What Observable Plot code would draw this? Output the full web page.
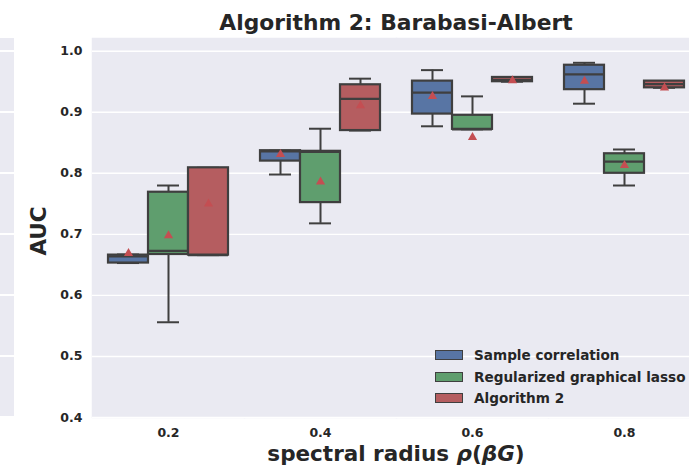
<!DOCTYPE html>
<html><head><meta charset="utf-8">
<script src="https://cdn.jsdelivr.net/npm/d3@7"></script>
<script src="https://cdn.jsdelivr.net/npm/@observablehq/plot@0.6"></script>
<style>
body{margin:0;width:689px;height:472px;overflow:hidden;background:#fff;font-family:"DejaVu Sans",sans-serif;font-weight:bold;color:#262626}
#wrap{position:relative;width:700px;height:472px}
#chart{position:absolute;left:0;top:0}
#neighbor{position:absolute;left:0;top:38px;width:14px;height:379px;background:repeating-linear-gradient(to bottom,#eaeaf2 0,#eaeaf2 12.3px,#fff 12.3px,#fff 13.7px,#eaeaf2 13.7px,#eaeaf2 61px)}
#title{position:absolute;left:92px;width:608px;top:11.6px;font-size:21.8px;line-height:21.8px;text-align:center;white-space:nowrap}
#xlabel{position:absolute;left:92px;width:608px;top:442.8px;font-size:21.5px;line-height:21.5px;text-align:center;white-space:nowrap}
#ylabel{position:absolute;left:-11.5px;top:216px;width:100px;height:30px;line-height:30px;font-size:21.5px;text-align:center;transform:rotate(-90deg)}
#legend{position:absolute;left:435px;top:344.3px;font-size:13.6px}
#legend .row{display:flex;align-items:center;height:21.5px;white-space:nowrap}
#legend .sw{width:26px;height:8px;border:1px solid #3f3f3f;margin-right:11px}
</style></head><body>
<div id="wrap">
<div id="neighbor"></div>
<div id="chart"></div>
<div id="title">Algorithm 2: Barabasi-Albert</div>
<div id="ylabel">AUC</div>
<div id="xlabel">spectral radius <i>ρ</i>(<i>βG</i>)</div>
<div id="legend"></div>
</div>
<script>
const categories = ["0.2", "0.4", "0.6", "0.8"];
const methods = ["Sample correlation", "Regularized graphical lasso", "Algorithm 2"];
const colors = ["#5875a4", "#5f9e6e", "#b55d60"];
const yTicks = [0.4, 0.5, 0.6, 0.7, 0.8, 0.9, 1.0];
// one row per method, one value per category
const whiskerLow  = [[0.653, 0.798, 0.877, 0.914], [0.556, 0.718, 0.872, 0.780], [0.666, 0.870, 0.950, 0.940]];
const q1          = [[0.653, 0.820, 0.897, 0.937], [0.667, 0.752, 0.872, 0.800], [0.666, 0.870, 0.950, 0.940]];
const median      = [[0.664, 0.836, 0.932, 0.962], [0.673, 0.835, 0.872, 0.819], [0.666, 0.922, 0.953, 0.946]];
const q3          = [[0.666, 0.837, 0.951, 0.977], [0.769, 0.836, 0.895, 0.832], [0.809, 0.945, 0.957, 0.951]];
const whiskerHigh = [[0.667, 0.837, 0.969, 0.981], [0.780, 0.873, 0.926, 0.839], [0.809, 0.955, 0.957, 0.951]];
const means       = [[0.669, 0.831, 0.926, 0.951], [0.698, 0.786, 0.859, 0.813], [0.750, 0.911, 0.952, 0.940]];

const rows = [];
methods.forEach((m, i) => categories.forEach((c, j) => rows.push({
  cat: c, method: m, lo: whiskerLow[i][j], q1: q1[i][j], med: median[i][j],
  q3: q3[i][j], hi: whiskerHigh[i][j], mean: means[i][j]
})));

const edge = "#3f3f3f";
const chart = Plot.plot({
  width: 700, height: 472,
  marginTop: 38, marginBottom: 55, marginLeft: 92, marginRight: 0,
  style: {fontFamily: "DejaVu Sans", fontSize: "12.5px", fontWeight: "bold", color: "#262626", background: "transparent", overflow: "visible"},
  fx: {domain: categories, padding: 0, axis: "bottom", tickSize: 0, tickPadding: 11, label: null},
  x: {domain: methods, paddingInner: 0, paddingOuter: 0.375, axis: null},
  y: {domain: [0.4, 1.0208], ticks: yTicks, tickFormat: d3.format(".1f"), tickSize: 0, tickPadding: 10, label: null},
  color: {domain: methods, range: colors},
  marks: [
    Plot.frame({fill: "#eaeaf2", stroke: "#eaeaf2", strokeWidth: 1.5}),
    Plot.gridY(yTicks, {stroke: "#fff", strokeOpacity: 1, strokeWidth: 1.4}),
    Plot.ruleX(rows, {fx: "cat", x: "method", y1: "lo", y2: "q1", stroke: edge, strokeWidth: 2}),
    Plot.ruleX(rows, {fx: "cat", x: "method", y1: "q3", y2: "hi", stroke: edge, strokeWidth: 2}),
    Plot.tickY(rows, {fx: "cat", x: "method", y: "lo", insetLeft: 9, insetRight: 9, stroke: edge, strokeWidth: 2}),
    Plot.tickY(rows, {fx: "cat", x: "method", y: "hi", insetLeft: 9, insetRight: 9, stroke: edge, strokeWidth: 2}),
    Plot.barY(rows, {fx: "cat", x: "method", y1: "q1", y2: "q3", fill: "method", stroke: edge, strokeWidth: 2.2}),
    Plot.tickY(rows, {fx: "cat", x: "method", y: "med", stroke: edge, strokeWidth: 2.2}),
    Plot.dot(rows, {fx: "cat", x: "method", y: "mean", symbol: "triangle", r: 3.4, fill: "#c44e52", stroke: null})
  ]
});
document.getElementById("chart").appendChild(chart);

const legend = document.getElementById("legend");
methods.forEach((m, i) => {
  const row = document.createElement("div");
  row.className = "row";
  const sw = document.createElement("span");
  sw.className = "sw";
  sw.style.background = colors[i];
  const t = document.createElement("span");
  t.textContent = m;
  row.appendChild(sw); row.appendChild(t);
  legend.appendChild(row);
});
</script>
</body></html>
